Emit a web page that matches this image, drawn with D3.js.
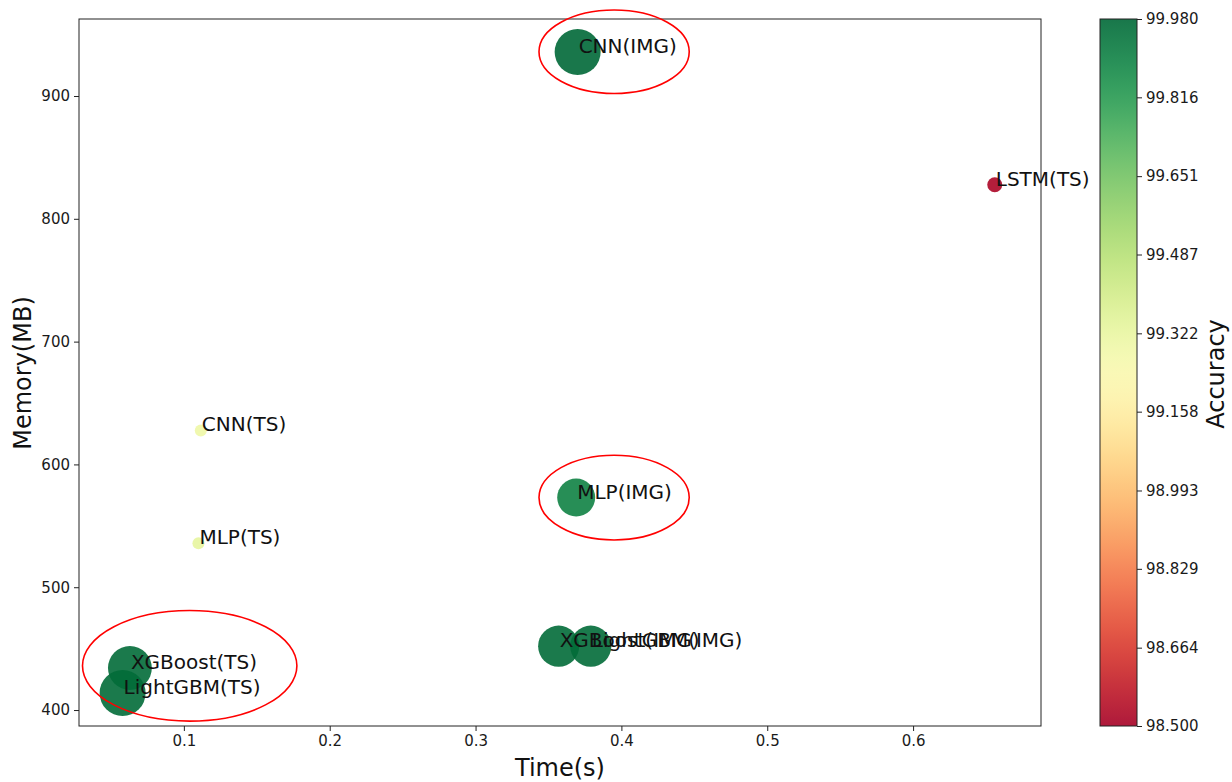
<!DOCTYPE html>
<html>
<head>
<meta charset="utf-8">
<script src="https://cdn.jsdelivr.net/npm/d3@7"></script>
<style>
  html, body { margin: 0; padding: 0; background: #fff; }
  text { font-family: "DejaVu Sans", sans-serif; }
</style>
</head>
<body>
<svg id="chart" width="1232" height="782"></svg>
<script>
// ---- data ----
const models   = ["CNN(IMG)", "LSTM(TS)", "CNN(TS)", "MLP(TS)", "MLP(IMG)", "XGBoost(IMG)", "LightGBM(IMG)", "XGBoost(TS)", "LightGBM(TS)"];
const timeS    = [0.370, 0.656, 0.1116, 0.110, 0.369, 0.357, 0.379, 0.063, 0.058];
const memoryMB = [935.8, 827.7, 627.7, 535.8, 573.0, 452.0, 452.0, 434.2, 413.8];
const accuracy = [99.98, 98.52, 99.30, 99.33, 99.90, 99.97, 99.97, 99.97, 99.97];
const bubble   = [1100, 117, 75, 75, 750, 880, 880, 1000, 1100];

const xTicks = [0.1, 0.2, 0.3, 0.4, 0.5, 0.6];
const yTicks = [400, 500, 600, 700, 800, 900];
const cbarTicks = [98.500, 98.664, 98.829, 98.993, 99.158, 99.322, 99.487, 99.651, 99.816, 99.980];

// highlight ellipses (data coordinates)
const ellCx = [0.395, 0.395, 0.104];
const ellCy = [936, 573, 436];
const ellW  = [0.103, 0.103, 0.147];
const ellH  = [68, 69, 90];

// ---- layout ----
const svg = d3.select("#chart");
svg.append("rect").attr("width", 1232).attr("height", 782).attr("fill", "#fff");

const plot = { left: 79, top: 19, right: 1041, bottom: 726 };
const x = d3.scaleLinear().domain([0.0281, 0.6877]).range([plot.left, plot.right]);
const y = d3.scaleLinear().domain([387.0, 962.7]).range([plot.bottom, plot.top]);
const color = d3.scaleSequential(d3.interpolateRdYlGn).domain([98.5, 99.98]);
const rScale = d3.scaleSqrt().domain([0, 1100]).range([0, 23]);

const data = models.map((m, i) => ({ name: m, t: timeS[i], mem: memoryMB[i], acc: accuracy[i], s: bubble[i] }));

// axes
const xAxis = svg.append("g").attr("transform", `translate(0,${plot.bottom})`)
  .call(d3.axisBottom(x).tickValues(xTicks).tickFormat(d3.format(".1f")).tickSize(5).tickPadding(4));
const yAxis = svg.append("g").attr("transform", `translate(${plot.left},0)`)
  .call(d3.axisLeft(y).tickValues(yTicks).tickFormat(d3.format("d")).tickSize(5).tickPadding(4));
[xAxis, yAxis].forEach(a => {
  a.select(".domain").remove();
  a.selectAll("line").attr("stroke", "#222");
  a.selectAll("text").attr("font-size", 15).attr("fill", "#1a1a1a").attr("font-family", "DejaVu Sans");
});

// frame
svg.append("rect")
  .attr("x", plot.left).attr("y", plot.top)
  .attr("width", plot.right - plot.left).attr("height", plot.bottom - plot.top)
  .attr("fill", "none").attr("stroke", "#222").attr("stroke-width", 1);

// bubbles
svg.append("g").selectAll("circle").data(data).join("circle")
  .attr("cx", d => x(d.t)).attr("cy", d => y(d.mem))
  .attr("r", d => rScale(d.s))
  .attr("fill", d => color(d.acc))
  .attr("fill-opacity", 0.9);

// ellipses
svg.append("g").selectAll("ellipse").data(ellCx.map((c, i) => i)).join("ellipse")
  .attr("cx", i => x(ellCx[i])).attr("cy", i => y(ellCy[i]))
  .attr("rx", i => (x(ellW[i]) - x(0)) / 2)
  .attr("ry", i => (y(0) - y(ellH[i])) / 2)
  .attr("fill", "none").attr("stroke", "#ff0000").attr("stroke-width", 1.6);

// labels
svg.append("g").selectAll("text").data(data).join("text")
  .attr("x", d => x(d.t) + 1).attr("y", d => y(d.mem)).attr("dy", 1)
  .attr("font-size", 20).attr("fill", "#111")
  .text(d => d.name);

// axis titles
svg.append("text").attr("x", 560).attr("y", 776).attr("text-anchor", "middle")
  .attr("font-size", 24).attr("fill", "#111").text("Time(s)");
svg.append("text").attr("transform", "translate(31,373) rotate(-90)").attr("text-anchor", "middle")
  .attr("font-size", 24).attr("fill", "#111").text("Memory(MB)");

// colorbar
const cb = { left: 1100, width: 37, top: 19, bottom: 726 };
const defs = svg.append("defs");
const grad = defs.append("linearGradient").attr("id", "cbgrad")
  .attr("x1", 0).attr("y1", 1).attr("x2", 0).attr("y2", 0);
d3.range(0, 1.0001, 0.02).forEach(t => {
  grad.append("stop").attr("offset", t).attr("stop-color", d3.interpolateRdYlGn(t));
});
svg.append("rect").attr("x", cb.left).attr("y", cb.top)
  .attr("width", cb.width).attr("height", cb.bottom - cb.top)
  .attr("fill", "url(#cbgrad)").attr("fill-opacity", 0.9)
  .attr("stroke", "#222").attr("stroke-width", 1);
const cy = d3.scaleLinear().domain([98.5, 99.98]).range([cb.bottom, cb.top]);
const cAxis = svg.append("g").attr("transform", `translate(${cb.left + cb.width},0)`)
  .call(d3.axisRight(cy).tickValues(cbarTicks).tickFormat(d3.format(".3f")).tickSize(5).tickPadding(4));
cAxis.select(".domain").remove();
cAxis.selectAll("line").attr("stroke", "#222");
cAxis.selectAll("text").attr("font-size", 15).attr("fill", "#1a1a1a").attr("font-family", "DejaVu Sans");
svg.append("text").attr("transform", "translate(1224,374) rotate(-90)").attr("text-anchor", "middle")
  .attr("font-size", 24).attr("fill", "#111").text("Accuracy");
</script>
</body>
</html>
